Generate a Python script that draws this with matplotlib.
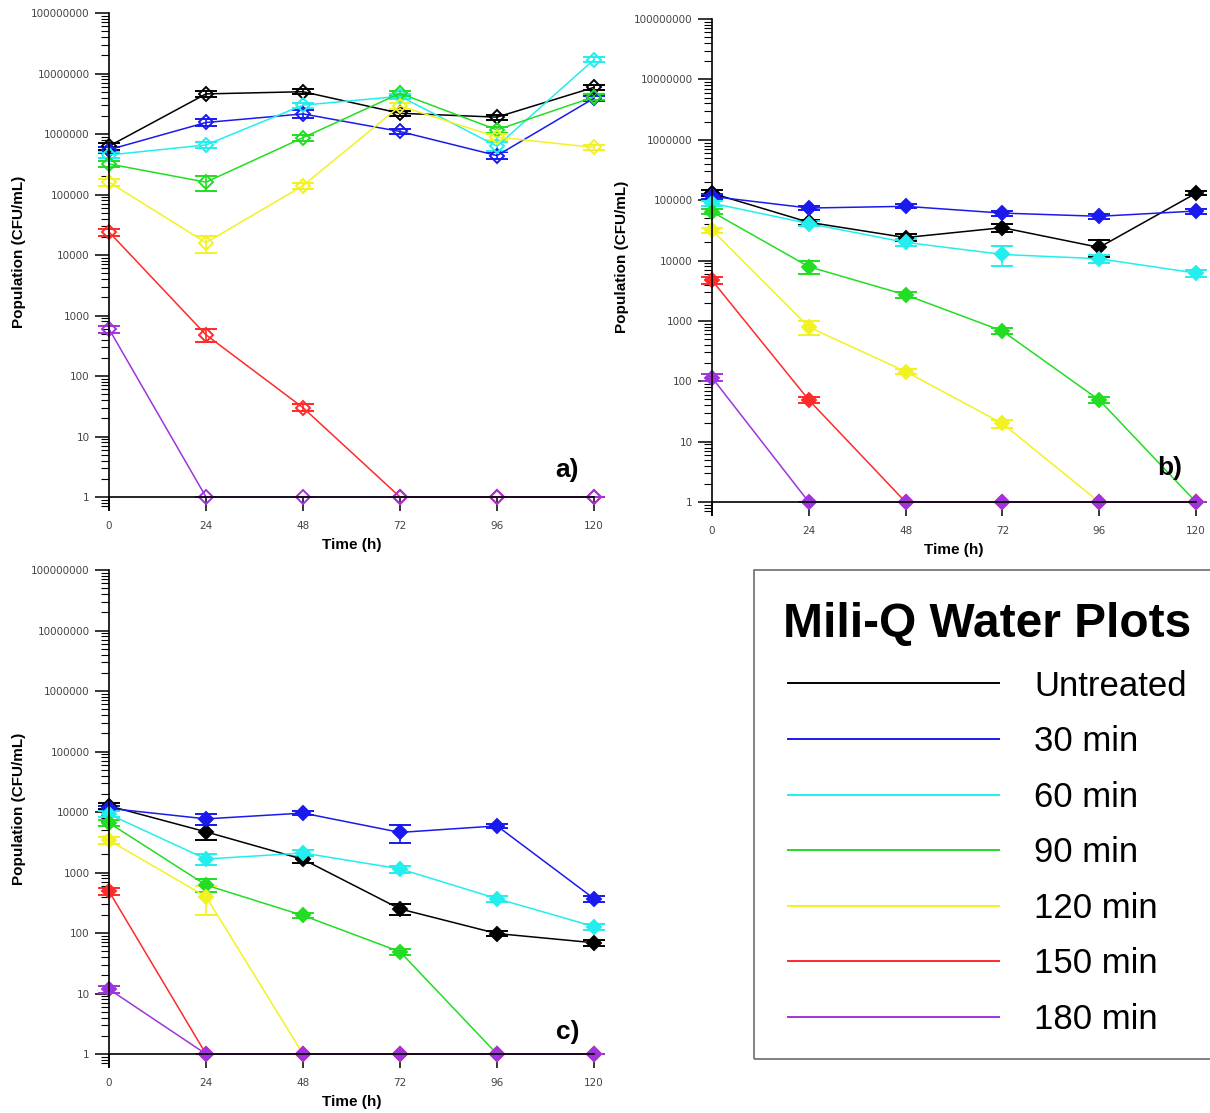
import matplotlib
matplotlib.use("Agg")
import matplotlib.pyplot as plt
from matplotlib.patches import Rectangle
from matplotlib.ticker import LogLocator, FixedFormatter, FixedLocator

# sampling times (h) and treatment groups
time = [0, 24, 48, 72, 96, 120]
labels = ["Untreated", "30 min", "60 min", "90 min", "120 min", "150 min", "180 min"]
colors = ["#000000", "#1a1aee", "#22eeee", "#22dd22", "#f2f222", "#ff2a2a", "#a033dd"]

# panel a) population (CFU/mL), one row per group
a_vals = [
    [6.3e5, 4.6e6, 5.0e6, 2.2e6, 1.9e6, 5.9e6],
    [5.5e5, 1.55e6, 2.15e6, 1.1e6, 4.4e5, 3.9e6],
    [4.5e5, 6.6e5, 3.0e6, 4.2e6, 6.3e5, 1.7e7],
    [3.2e5, 1.6e5, 8.7e5, 4.7e6, 1.17e6, 4.1e6],
    [1.6e5, 1.6e4, 1.4e5, 2.9e6, 8.9e5, 6.0e5],
    [2.4e4, 480, 30, 1, 1, 1],
    [600, 1, 1, 1, 1, 1],
]
a_err = [
    [8e4, 5e5, 5e5, 2e5, 2e5, 6e5],
    [6e4, 2e5, 3e5, 1e5, 6e4, 4e5],
    [5e4, 8e4, 3e5, 4e5, 1e5, 1.5e6],
    [4e4, 4.5e4, 1e5, 5e5, 1.5e5, 4e5],
    [2e4, 5e3, 1.5e4, 3e5, 1e5, 6e4],
    [3e3, 120, 4, 0, 0, 0],
    [80, 0, 0, 0, 0, 0],
]

# panel b)
b_vals = [
    [1.3e5, 4.3e4, 2.4e4, 3.5e4, 1.65e4, 1.3e5],
    [1.15e5, 7.4e4, 7.9e4, 6.1e4, 5.4e4, 6.6e4],
    [8.9e4, 4.1e4, 2.0e4, 1.26e4, 1.07e4, 6.2e3],
    [6.4e4, 7.9e3, 2.7e3, 680, 49, 1],
    [3.2e4, 790, 145, 20, 1, 1],
    [4.7e3, 49, 1, 1, 1, 1],
    [115, 1, 1, 1, 1, 1],
]
b_err = [
    [1.5e4, 4e3, 3e3, 5e3, 5e3, 1e4],
    [1e4, 6e3, 6e3, 6e3, 6e3, 6e3],
    [8e3, 4e3, 2.5e3, 4.5e3, 1.5e3, 8e2],
    [6e3, 2e3, 3e2, 80, 6, 0],
    [3e3, 200, 15, 3, 0, 0],
    [6e2, 6, 0, 0, 0, 0],
    [15, 0, 0, 0, 0, 0],
]

# panel c)
c_vals = [
    [1.26e4, 4.7e3, 1.65e3, 250, 98, 69],
    [1.15e4, 7.7e3, 9.6e3, 4.6e3, 5.9e3, 370],
    [9.2e3, 1.67e3, 2.1e3, 1.15e3, 370, 128],
    [6.6e3, 620, 195, 49, 1, 1],
    [3.4e3, 400, 1, 1, 1, 1],
    [490, 1, 1, 1, 1, 1],
    [11.8, 1, 1, 1, 1, 1],
]
c_err = [
    [1.5e3, 1.3e3, 2e2, 50, 10, 8],
    [1e3, 1.5e3, 8e2, 1.5e3, 5e2, 40],
    [1e3, 3.5e2, 2.5e2, 1.5e2, 40, 15],
    [7e2, 150, 20, 5, 0, 0],
    [4e2, 200, 0, 0, 0, 0],
    [60, 0, 0, 0, 0, 0],
    [1.5, 0, 0, 0, 0, 0],
]

ytick_vals = [1, 10, 100, 1000, 10000, 100000, 1000000, 10000000, 100000000]

W, H = 1210, 1113
plt.rcParams["font.family"] = ["Liberation Sans", "DejaVu Sans"]
fig = plt.figure(figsize=(W / 100, H / 100), dpi=100)


def px_axes(x0, x1, ytop, ybot):
    return fig.add_axes([x0 / W, 1 - ybot / H, (x1 - x0) / W, (ybot - ytop) / H])


def draw_panel(ax, vals, errs, hollow, tag, tag_y):
    for v, e, c in zip(vals, errs, colors):
        ax.errorbar(time, v, yerr=e, color=c, lw=1.1, marker="D", ms=7.5,
                    mec=c, mew=1.4, mfc="none" if hollow else c,
                    capsize=8, capthick=1.2, elinewidth=1.2, clip_on=False)
    ax.set_yscale("log")
    ax.set_ylim(0.61, 1e8)
    ax.set_xlim(0, 120)
    ax.spines["top"].set_visible(False)
    ax.spines["right"].set_visible(False)
    ax.spines["bottom"].set_position(("data", 1))
    ax.spines["left"].set_linewidth(1.2)
    ax.spines["bottom"].set_linewidth(1.2)
    ax.yaxis.set_major_locator(FixedLocator(ytick_vals))
    ax.yaxis.set_major_formatter(FixedFormatter([str(t) for t in ytick_vals]))
    ax.yaxis.set_minor_locator(LogLocator(base=10, subs=range(2, 10), numticks=20))
    ax.set_xticks(time)
    ax.tick_params(axis="both", which="major", direction="out", length=10,
                   width=1.1, labelsize=7.5, labelcolor="#444444", pad=4)
    ax.tick_params(axis="x", which="major", pad=7)
    ax.tick_params(axis="y", which="minor", direction="out", length=6, width=0.8)
    ax.set_xlabel("Time (h)", fontsize=11, fontweight="bold", labelpad=5)
    ax.set_ylabel("Population (CFU/mL)", fontsize=11, fontweight="bold")
    ax.yaxis.set_label_coords(-0.172, 0.52)
    ax.text(0.945, tag_y, tag, transform=ax.transAxes, fontsize=19,
            fontweight="bold", ha="center", va="center")
    for lab in ax.get_xticklabels() + ax.get_yticklabels():
        lab.set_family("DejaVu Sans")


ax_a = px_axes(109, 594, 13, 510)
ax_b = px_axes(712, 1196, 19, 515)
ax_c = px_axes(109, 594, 570, 1067)

draw_panel(ax_a, a_vals, a_err, True, "a)", 0.08)
draw_panel(ax_b, b_vals, b_err, False, "b)", 0.095)
draw_panel(ax_c, c_vals, c_err, False, "c)", 0.07)

# legend box frame (runs off the right edge like the original)
fig.patches.append(Rectangle((754 / W, 1 - 1059 / H), 470 / W, 489 / H,
                             transform=fig.transFigure, fill=False,
                             edgecolor="#777777", lw=1.3))

leg_lines = [plt.Line2D([], [], color=c, lw=1.4) for c in colors]
leg = fig.legend(leg_lines, labels, loc="upper left",
                 bbox_to_anchor=(783 / W, 1 - 602 / H), fontsize=25,
                 title="Mili-Q Water Plots", handlelength=6.1, handletextpad=1.0,
                 labelspacing=0.65, borderpad=0, borderaxespad=0,
                 frameon=False)
leg.get_title().set_fontsize(34.5)
leg.get_title().set_fontweight("bold")

fig.savefig("out.png", dpi=100)
